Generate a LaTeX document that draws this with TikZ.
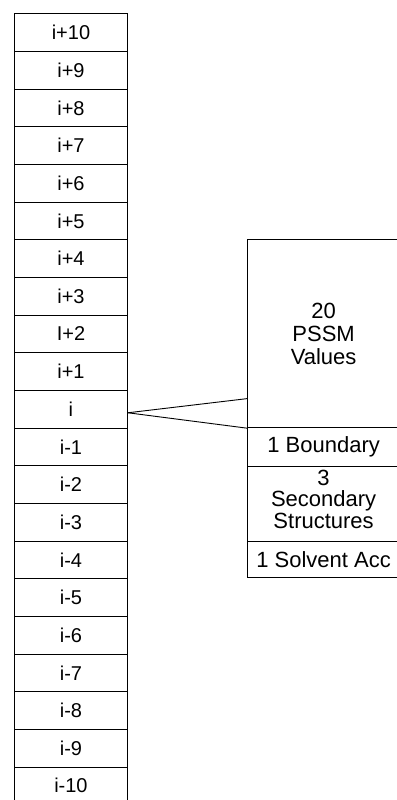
\documentclass[tikz,border=0pt]{standalone}
\usepackage{fontspec}
\setmainfont{Liberation Sans}
\usetikzlibrary{calc}
\begin{document}
\begin{tikzpicture}[x=1pt,y=-1pt,
  cell/.style={draw=black,line width=0.9pt,rectangle,anchor=north west,inner sep=0pt,
    minimum width=113pt,minimum height=37.65pt,font=\fontsize{20}{22}\selectfont},
  rbox/.style={draw=black,line width=0.9pt,rectangle,anchor=north west,inner sep=0pt,
    minimum width=151.7pt,align=center,font=\fontsize{22}{22.8}\selectfont},
  conn/.style={draw=black,line width=0.9pt}]
\useasboundingbox (0,0) rectangle (396,800);
\foreach \lab [count=\k from 0] in {i+10,i+9,i+8,i+7,i+6,i+5,i+4,i+3,I+2,i+1,i,i-1,i-2,i-3,i-4,i-5,i-6,i-7,i-8,i-9,i-10}{
  \node[cell] (r\k) at (14,{13.5+37.65*\k}) {\lab};
}
\node[rbox,minimum height=188pt] (pssm) at (247.3,239.3) {20\\PSSM\\Values};
\node[rbox,minimum height=38.4pt] (bnd) at (247.3,427.3) {1 Boundary};
\node[rbox,minimum height=75pt] (sec) at (247.3,465.7) {};
\node[anchor=north,align=center,inner sep=0pt,font=\fontsize{22}{21.5}\selectfont] (sect) at ($(sec.north)+(0,4)$) {3\\Secondary\\Structures};
\node[rbox,minimum height=36.6pt] (sol) at (247.3,540.7) {1 Solvent Acc};
\coordinate (apex) at ($(r10.east)+(0,3.5)$);
\coordinate (tip) at ($(pssm.south west)+(0,-29.6)$);
\draw[conn] (apex) -- (tip);
\draw[conn] (apex) -- (pssm.south west);
\end{tikzpicture}
\end{document}
